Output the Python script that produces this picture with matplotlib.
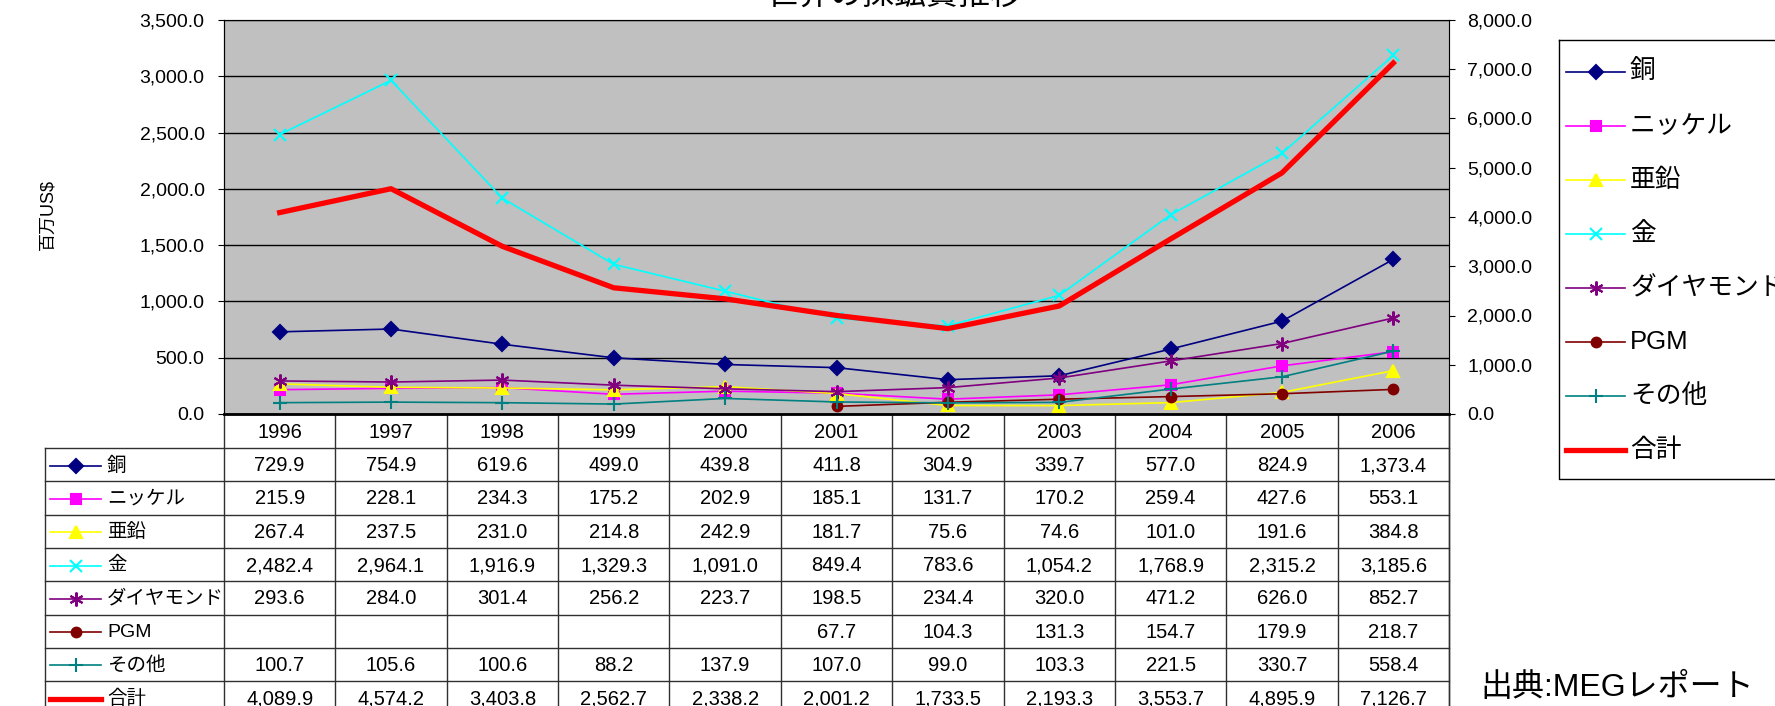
import matplotlib
matplotlib.use("Agg")
from matplotlib import pyplot as plt
import numpy as np

plt.rcParams['font.family'] = ['Liberation Sans', 'Noto Sans CJK JP']

years = [1996, 1997, 1998, 1999, 2000, 2001, 2002, 2003, 2004, 2005, 2006]
names = ['銅', 'ニッケル', '亜鉛', '金', 'ダイヤモンド', 'PGM', 'その他', '合計']
copper = [729.9, 754.9, 619.6, 499.0, 439.8, 411.8, 304.9, 339.7, 577.0, 824.9, 1373.4]
nickel = [215.9, 228.1, 234.3, 175.2, 202.9, 185.1, 131.7, 170.2, 259.4, 427.6, 553.1]
zinc = [267.4, 237.5, 231.0, 214.8, 242.9, 181.7, 75.6, 74.6, 101.0, 191.6, 384.8]
gold = [2482.4, 2964.1, 1916.9, 1329.3, 1091.0, 849.4, 783.6, 1054.2, 1768.9, 2315.2, 3185.6]
diamond = [293.6, 284.0, 301.4, 256.2, 223.7, 198.5, 234.4, 320.0, 471.2, 626.0, 852.7]
pgm = [np.nan, np.nan, np.nan, np.nan, np.nan, 67.7, 104.3, 131.3, 154.7, 179.9, 218.7]
other = [100.7, 105.6, 100.6, 88.2, 137.9, 107.0, 99.0, 103.3, 221.5, 330.7, 558.4]
total = [4089.9, 4574.2, 3403.8, 2562.7, 2338.2, 2001.2, 1733.5, 2193.3, 3553.7, 4895.9, 7126.7]

series = [copper, nickel, zinc, gold, diamond, pgm, other, total]
colors = ['#000080', '#FF00FF', '#FFFF00', '#00FFFF', '#800080', '#800000', '#008080', '#FF0000']
markers = ['D', 's', '^', 'x', (6, 2, 0), 'o', '+', None]
msizes = [7, 7, 9, 9, 10, 7, 10, 0]

W, H = 1775, 706
fig = plt.figure(figsize=(W / 100, H / 100), dpi=100)

# pixel overlay for the table, legend and loose texts
ov = fig.add_axes([0, 0, 1, 1])
ov.set_xlim(0, W)
ov.set_ylim(H, 0)
ov.axis('off')

plot_l, plot_r, plot_t, plot_b = 224, 1449, 20, 414
ax = fig.add_axes([plot_l / W, 1 - plot_b / H, (plot_r - plot_l) / W, (plot_b - plot_t) / H])
ax.set_facecolor('#C0C0C0')
x = np.arange(len(years))
for i in range(7):
    ax.plot(x, series[i], color=colors[i], marker=markers[i], ms=msizes[i],
            mec=colors[i], mfc=colors[i], mew=1.5, lw=1.2, zorder=3)
ax.set_xlim(-0.5, 10.5)
ax.set_ylim(0, 3500)
ax.set_yticks(np.arange(0, 3501, 500))
ax.set_yticklabels([f'{v:,.1f}' for v in np.arange(0, 3501, 500)])
ax.grid(axis='y', color='black', lw=1)
ax.set_xticks([])
ax.tick_params(axis='y', direction='out', length=4, pad=10, labelsize=14)
for s in ['top', 'right']:
    ax.spines[s].set_color('#808080')
ax.spines['left'].set_color('black')
ax.spines['bottom'].set_linewidth(2)

ax2 = ax.twinx()
ax2.plot(x, total, color=colors[7], lw=3.8, zorder=4)
ax2.set_ylim(0, 8000)
ax2.set_yticks(np.arange(0, 8001, 1000))
ax2.set_yticklabels([f'{v:,.1f}' for v in np.arange(0, 8001, 1000)])
ax2.tick_params(axis='y', direction='out', length=4, pad=9, labelsize=14)
ax2.spines['right'].set_color('black')

ov.text(895, 4, '世界の採鉱費推移', ha='center', va='baseline', fontsize=23)
ov.text(48, 215, '百万US\\$', ha='center', va='center', rotation=90, fontsize=13)

# data table below the plot
tab_l = 45
hdr_b = 448
row_h = 33.3
col_w = (plot_r - plot_l) / len(years)
lc = '#303030'
n_rows = len(names)
tab_b = hdr_b + row_h * n_rows
ov.plot([plot_r, plot_r], [plot_b, tab_b], color=lc, lw=1)
ov.plot([tab_l, tab_l], [hdr_b, tab_b], color=lc, lw=1)
for j in range(len(years) + 1):
    xx = plot_l + j * col_w
    ov.plot([xx, xx], [plot_b, tab_b], color=lc, lw=1)
ov.plot([tab_l, plot_r], [hdr_b, hdr_b], color=lc, lw=1)
for r in range(1, n_rows + 1):
    yy = hdr_b + r * row_h
    ov.plot([tab_l, plot_r], [yy, yy], color=lc, lw=1)
for j, yr in enumerate(years):
    ov.text(plot_l + (j + 0.5) * col_w, (plot_b + hdr_b) / 2 + 1, str(yr),
            ha='center', va='center', fontsize=14.5)
for r in range(n_rows):
    yc = hdr_b + (r + 0.5) * row_h + 1
    lw = 3.8 if r == 7 else 1.2
    ov.plot([50, 101], [yc, yc], color=colors[r], lw=lw)
    if markers[r] is not None:
        ov.plot([75.5], [yc], color=colors[r], marker=markers[r], ms=msizes[r],
                mec=colors[r], mfc=colors[r], mew=1.5)
    ov.text(107, yc, names[r], ha='left', va='center', fontsize=14)
    for j, v in enumerate(series[r]):
        if not np.isnan(v):
            ov.text(plot_l + (j + 0.5) * col_w, yc, f'{v:,.1f}',
                    ha='center', va='center', fontsize=14.5)

# legend box
leg_l, leg_t, leg_b = 1559, 40, 479
ov.plot([leg_l, W + 5, W + 5, leg_l, leg_l], [leg_t, leg_t, leg_b, leg_b, leg_t], color='black', lw=1)
for r in range(n_rows):
    yc = 72 + r * 54.0
    lw = 3.8 if r == 7 else 1.2
    ov.plot([1566, 1625], [yc, yc], color=colors[r], lw=lw)
    if markers[r] is not None:
        ov.plot([1596], [yc], color=colors[r], marker=markers[r], ms=msizes[r],
                mec=colors[r], mfc=colors[r], mew=1.5)
    ov.text(1630, yc, names[r], ha='left', va='center', fontsize=18.5)

ov.text(1480, 688, '出典:MEGレポート', ha='left', va='center', fontsize=23)

fig.savefig('out.png', dpi=100)
